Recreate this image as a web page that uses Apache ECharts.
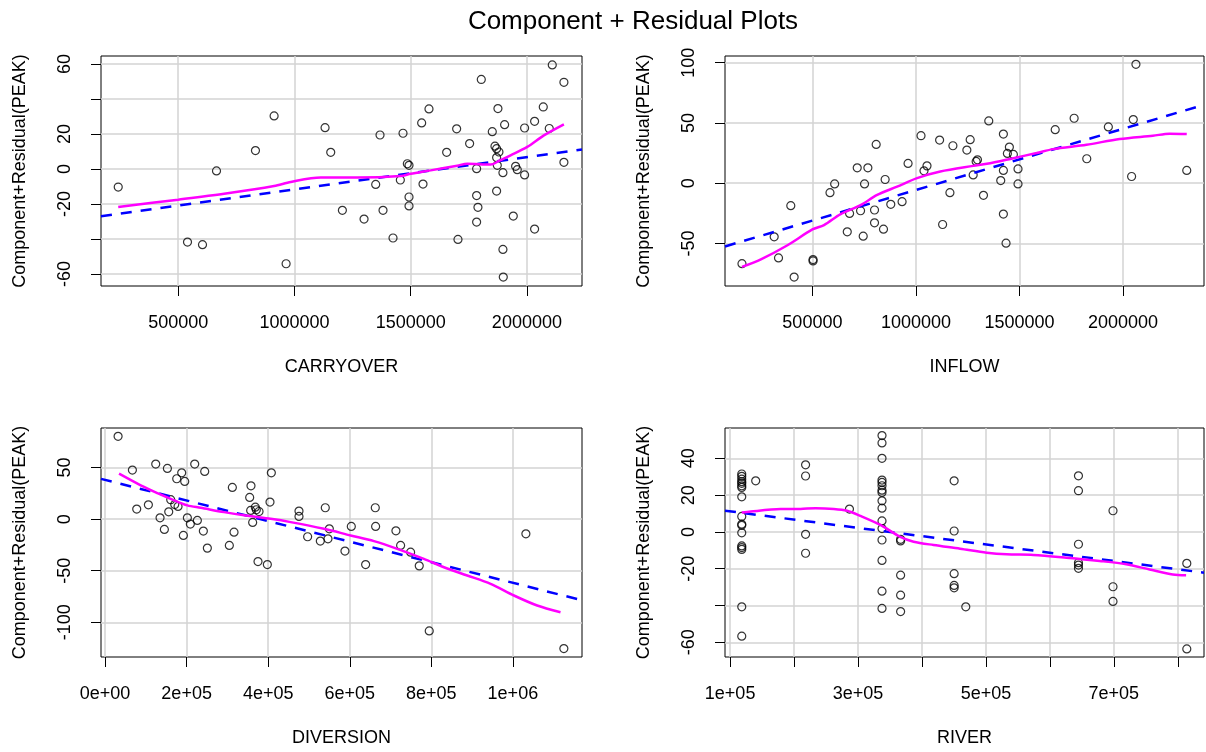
<!DOCTYPE html>
<html>
<head>
<meta charset="utf-8">
<title>Component + Residual Plots</title>
<script src="https://cdn.jsdelivr.net/npm/echarts@6/dist/echarts.min.js"></script>
<style>
  html, body { margin: 0; padding: 0; background: #fff; }
  #main { width: 1206px; height: 752px; }
</style>
</head>
<body>
<div id="main"></div>
<script>
// points: [x, component+residual]
var carryPts = [[242100,-10.3],[540100,-41.7],[604600,-43.2],[664800,-1.1],[832400,10.5],[912600,30.3],[964200,-54.1],
  [1131800,23.6],[1156200,9.5],[1206300,-23.6],[1299500,-28.6],[1349600,-8.8],[1368200,19.4],[1381100,-23.6],
  [1424100,-39.4],[1455600,-6.3],[1467100,20.4],[1485700,3.0],[1492900,2.1],[1492900,-16.0],[1492900,-21.1],
  [1547300,26.3],[1553100,-8.6],[1578800,34.3],[1654800,9.5],[1697800,22.9],[1703500,-40.2],[1753600,14.5],
  [1783700,0.2],[1783700,-15.2],[1789400,-21.9],[1783700,-30.3],[1803800,51.1],[1851100,21.3],[1862600,13.0],
  [1869700,11.6],[1875400,34.5],[1879700,9.7],[1869700,6.5],[1872600,2.1],[1869700,-12.6],[1896900,-2.1],
  [1904100,25.3],[1896900,-45.9],[1898400,-61.7],[1941400,-26.9],[1951400,1.5],[1958600,-0.4],[1990100,23.4],
  [1990100,-3.4],[2033100,27.2],[2033100,-34.3],[2070400,35.4],[2096200,23.1],[2109100,59.4],[2159200,49.5],
  [2159200,3.8]];
var carryFit = [[168000,-27.0],[2237000,11.1]];
var carrySmooth = [[242100,-21.7],[500000,-17.5],[697700,-14.1],[912600,-9.7],[984200,-7.4],[1113200,-4.9],
  [1270800,-4.9],[1457000,-4.0],[1500000,-2.7],[1586000,-0.8],[1700600,1.9],[1743600,3.0],[1843900,2.5],
  [1879700,4.6],[1929800,7.8],[2001500,12.6],[2073100,19.2],[2159200,25.5]];

var inflowPts = [[159950,-66.7],[315500,-44.4],[336400,-61.9],[395700,-18.6],[411800,-77.8],[503200,-63.3],
  [503200,-64.4],[585000,-7.8],[607500,-0.6],[668400,-40.3],[679600,-25.0],[716500,12.8],[732600,-22.8],
  [745400,-43.9],[751800,-0.6],[767900,12.8],[800000,-22.2],[800000,-32.8],[808000,32.2],[843300,-38.1],
  [851300,3.1],[878500,-17.5],[933100,-15.3],[962000,16.4],[1024500,39.4],[1038900,10.3],[1053400,14.4],
  [1114300,35.8],[1128800,-34.2],[1164100,-7.8],[1178500,31.1],[1245900,27.5],[1261900,36.1],[1276400,6.9],
  [1290800,18.1],[1297200,19.4],[1326100,-10.0],[1351700,51.7],[1409500,2.2],[1422300,40.8],[1422300,10.6],
  [1422300,-25.6],[1435100,-49.7],[1441600,24.7],[1451200,30.0],[1470500,23.9],[1492900,11.9],[1492900,-0.6],
  [1672500,44.4],[1763900,53.9],[1824900,20.3],[1929100,46.7],[2041400,5.6],[2049500,52.8],[2062300,98.6],
  [2307700,10.6]];
var inflowFit = [[78000,-52.4],[2391000,65.0]];
var inflowSmooth = [[159950,-69.4],[251400,-63.1],[379700,-51.4],[500000,-38.3],[556100,-34.7],[636300,-25.6],
  [732600,-18.1],[812800,-9.7],[909000,-2.8],[1005300,4.2],[1117500,9.7],[1277900,14.4],[1342100,16.1],
  [1470400,20.8],[1582700,25.0],[1662900,28.3],[1823300,31.9],[1983700,36.7],[2144100,39.4],[2224300,41.1],
  [2307700,40.8]];

var diversionPts = [[31900,80.2],[67000,47.5],[77600,9.7],[106200,13.9],[124200,53.3],[134800,1.3],[145400,-10.0],
  [152800,49.1],[156100,7.1],[161000,18.8],[170800,14.2],[175700,39.1],[178900,12.3],[187900,44.9],[195300,36.5],
  [192000,-15.8],[201800,1.3],[209100,-4.8],[219800,53.3],[226300,-1.3],[241000,-11.6],[244300,46.2],
  [250800,-28.1],[304700,-25.5],[312100,30.7],[316200,-12.6],[354600,21.0],[357800,32.3],[357000,8.4],
  [361900,-3.2],[368400,11.6],[370900,9.1],[377500,7.4],[375000,-41.1],[397900,-44.0],[404400,16.5],
  [407700,44.9],[475500,7.8],[475500,2.6],[496700,-17.1],[527800,-21.3],[540000,11.0],[546600,-19.1],
  [549900,-9.4],[588200,-31.0],[603800,-7.1],[638900,-44.0],[662600,11.0],[663400,-7.1],[713200,-11.3],
  [724700,-25.5],[749200,-32.0],[770400,-45.3],[794900,-108.3],[1031900,-14.2],[1125000,-125.4]];
var diversionFit = [[-10000,39.0],[1169500,-78.6]];
var diversionSmooth = [[34300,44.0],[87400,32.7],[128300,25.2],[160900,19.7],[201800,13.3],[234500,11.0],
  [291700,6.8],[348900,3.2],[406000,0.3],[455100,-2.9],[536800,-9.4],[602100,-15.8],[659300,-21.3],
  [716500,-28.8],[781800,-38.5],[830900,-46.6],[888100,-54.6],[945300,-62.7],[1002500,-74.0],[1059600,-83.7],
  [1116800,-90.2]];

var riverPts = [[118200,31.5],[118200,30.2],[118200,28.7],[118200,27.3],[118200,26.4],[118200,25.1],[118200,24.2],
  [118200,19.1],[118200,8.4],[118200,4.2],[118200,3.6],[118200,-0.5],[118200,-7.6],[118200,-8.5],[118200,-9.5],
  [118200,-40.7],[118200,-56.7],[140000,27.8],[218000,36.5],[218000,30.4],[218000,-1.3],[218000,-11.6],
  [286600,12.4],[337500,52.4],[337500,48.4],[337500,40.0],[337500,28.2],[337500,26.9],[337500,25.1],
  [337500,22.7],[337500,21.5],[337500,16.9],[337500,12.9],[337500,6.0],[337500,1.8],[337500,-4.4],
  [337500,-15.5],[337500,-32.2],[337500,-41.6],[366600,-4.0],[366600,-4.9],[366600,-23.5],[366600,-34.4],
  [366600,-43.3],[450300,27.8],[450300,0.5],[450300,-22.7],[450300,-29.1],[450300,-30.4],[468500,-40.7],
  [644700,30.5],[644700,22.4],[644700,-6.7],[644700,-16.7],[644700,-18.0],[644700,-19.8],[698700,11.5],
  [698700,-29.8],[698700,-37.8],[814100,-17.1],[814100,-63.6]];
var riverFit = [[92000,11.55],[841000,-22.15]];
var riverSmooth = [[118200,10.5],[132200,11.1],[179000,12.4],[210200,12.5],[233600,12.9],[262100,12.5],
  [282900,11.5],[303700,8.7],[334900,3.8],[366100,-2.7],[386900,-5.3],[418100,-7.1],[459600,-9.1],
  [501200,-11.3],[532400,-12.2],[574000,-12.5],[625900,-14.0],[677900,-15.8],[719500,-17.6],[755900,-20.4],
  [792200,-23.1],[813000,-23.5]];

// ticks and the labels R kept
var carryTicks = [500000, 1000000, 1500000, 2000000];
var carryYTicks = [-60, -40, -20, 0, 20, 40, 60];
var carryYLabels = [-60, -20, 0, 20, 60];
var inflowTicks = [500000, 1000000, 1500000, 2000000];
var inflowYTicks = [-50, 0, 50, 100];
var diversionTicks = [0, 200000, 400000, 600000, 800000, 1000000];
var diversionYTicks = [-100, -50, 0, 50];
var riverTicks = [100000, 200000, 300000, 400000, 500000, 600000, 700000, 800000];
var riverLabels = [100000, 300000, 500000, 700000];
var riverYTicks = [-60, -40, -20, 0, 20, 40];
var riverYLabels = [-60, -20, 0, 20, 40];

var font = '"Liberation Sans", Arial, sans-serif';
var yName = 'Component+Residual(PEAK)';

function sci (v) {
  if (v === 0) return '0e+00';
  var e = Math.floor(Math.log10(Math.abs(v)) + 1e-9);
  var m = Math.round(v / Math.pow(10, e));
  return m + 'e' + (e < 0 ? '-' : '+') + (Math.abs(e) < 10 ? '0' : '') + Math.abs(e);
}

function xAxisOf (idx, name, min, max, ticks, labels, fmt) {
  return {
    type: 'value', gridIndex: idx, min: min, max: max,
    name: name, nameLocation: 'middle', nameGap: 72,
    nameTextStyle: { color: '#000', fontSize: 18, fontFamily: font },
    axisLine: { show: false, onZero: false },
    axisTick: { show: true, length: 10, lineStyle: { color: '#000' }, customValues: ticks },
    axisLabel: { color: '#000', fontSize: 18, fontFamily: font, margin: 28, customValues: labels,
      formatter: fmt || function (v) { return String(v); } },
    splitLine: { show: true, lineStyle: { color: '#d3d3d3', width: 1.5 } }
  };
}

function yAxisOf (idx, min, max, ticks, labels) {
  return {
    type: 'value', gridIndex: idx, min: min, max: max,
    name: yName, nameLocation: 'middle', nameGap: 72,
    nameTextStyle: { color: '#000', fontSize: 18, fontFamily: font },
    axisLine: { show: false, onZero: false },
    axisTick: { show: true, length: 10, lineStyle: { color: '#000' }, customValues: ticks },
    axisLabel: { color: '#000', fontSize: 18, fontFamily: font, margin: 27, rotate: 90, customValues: labels },
    splitLine: { show: true, lineStyle: { color: '#d3d3d3', width: 1.5 } }
  };
}

function panel (idx, pts, fit, smooth) {
  return [{
    type: 'scatter', xAxisIndex: idx, yAxisIndex: idx, data: pts,
    symbol: 'circle', symbolSize: 8,
    itemStyle: { color: 'rgba(0,0,0,0)', borderColor: '#000', borderWidth: 1.2 },
    emphasis: { disabled: true }, silent: true, z: 3
  }, {
    type: 'line', xAxisIndex: idx, yAxisIndex: idx, data: fit,
    showSymbol: false, symbol: 'none', clip: true,
    lineStyle: { color: '#0000ff', width: 2.5, type: [11, 9] }, silent: true, z: 4
  }, {
    type: 'line', xAxisIndex: idx, yAxisIndex: idx, data: smooth,
    showSymbol: false, symbol: 'none', smooth: 0.3, clip: true,
    lineStyle: { color: '#ff00ff', width: 2.5 }, silent: true, z: 5
  }];
}

var myChart = echarts.init(document.getElementById('main'));
var gridBox = { show: true, borderColor: '#000', borderWidth: 1, backgroundColor: '#fff' };
var option = {
  backgroundColor: '#fff',
  animation: false,
  title: {
    text: 'Component + Residual Plots', left: 628, top: 4, textAlign: 'center',
    textStyle: { color: '#000', fontSize: 26, fontWeight: 'normal', fontFamily: font }
  },
  grid: [
    Object.assign({ left: 101, top: 56, width: 481, height: 230 }, gridBox),
    Object.assign({ left: 725, top: 56, width: 479, height: 230 }, gridBox),
    Object.assign({ left: 101, top: 428, width: 481, height: 229 }, gridBox),
    Object.assign({ left: 725, top: 428, width: 479, height: 229 }, gridBox)
  ],
  xAxis: [
    xAxisOf(0, 'CARRYOVER', 168000, 2237000, carryTicks, carryTicks),
    xAxisOf(1, 'INFLOW', 78000, 2391000, inflowTicks, inflowTicks),
    xAxisOf(2, 'DIVERSION', -10000, 1169500, diversionTicks, diversionTicks, sci),
    xAxisOf(3, 'RIVER', 92000, 841000, riverTicks, riverLabels, sci)
  ],
  yAxis: [
    yAxisOf(0, -66.8, 64.5, carryYTicks, carryYLabels),
    yAxisOf(1, -85.2, 105.5, inflowYTicks, inflowYTicks),
    yAxisOf(2, -133.6, 88.3, diversionYTicks, diversionYTicks),
    yAxisOf(3, -68, 56.5, riverYTicks, riverYLabels)
  ],
  series: [].concat(
    panel(0, carryPts, carryFit, carrySmooth),
    panel(1, inflowPts, inflowFit, inflowSmooth),
    panel(2, diversionPts, diversionFit, diversionSmooth),
    panel(3, riverPts, riverFit, riverSmooth)
  )
};
myChart.setOption(option);
window.addEventListener('resize', function () {
  myChart.resize();
});
</script>
</body>
</html>
